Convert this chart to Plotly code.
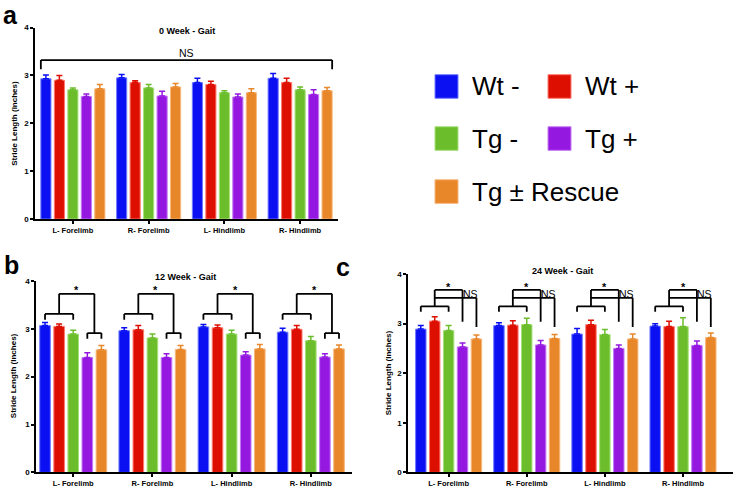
import plotly.graph_objects as go

W, H = 750, 500

categories = ["L- Forelimb", "R- Forelimb", "L- Hindlimb", "R- Hindlimb"]
series_names = ["Wt -", "Wt +", "Tg -", "Tg +", "Tg \u00b1 Rescue"]
colors = ["#0a10f2", "#dd0f00", "#6bbd2c", "#9418e0", "#e8862a"]
edge_colors = ["#6f7bff", "#ff7a70", "#a6e07a", "#c47af5", "#f7b77a"]

# means (rows = series, cols = categories)
wk0_mean = [[2.93, 2.95, 2.85, 2.94],
            [2.90, 2.85, 2.81, 2.85],
            [2.70, 2.74, 2.64, 2.70],
            [2.56, 2.57, 2.55, 2.60],
            [2.72, 2.76, 2.64, 2.68]]
wk0_sem = [[0.08, 0.07, 0.09, 0.10],
           [0.10, 0.04, 0.07, 0.09],
           [0.04, 0.07, 0.04, 0.06],
           [0.05, 0.10, 0.06, 0.10],
           [0.09, 0.07, 0.08, 0.07]]

wk12_mean = [[3.07, 2.96, 3.04, 2.93],
             [3.05, 2.98, 3.02, 2.99],
             [2.89, 2.81, 2.89, 2.75],
             [2.40, 2.40, 2.45, 2.41],
             [2.56, 2.57, 2.58, 2.58]]
wk12_sem = [[0.06, 0.06, 0.05, 0.08],
            [0.05, 0.09, 0.06, 0.08],
            [0.08, 0.08, 0.08, 0.09],
            [0.10, 0.08, 0.07, 0.07],
            [0.09, 0.08, 0.09, 0.08]]

wk24_mean = [[2.89, 2.96, 2.79, 2.95],
             [3.05, 2.97, 2.98, 2.94],
             [2.86, 2.98, 2.78, 2.94],
             [2.53, 2.57, 2.50, 2.56],
             [2.69, 2.70, 2.69, 2.72]]
wk24_sem = [[0.07, 0.06, 0.11, 0.05],
            [0.09, 0.09, 0.09, 0.11],
            [0.10, 0.13, 0.10, 0.18],
            [0.08, 0.09, 0.07, 0.09],
            [0.08, 0.08, 0.10, 0.09]]

panel_titles = ["0 Week - Gait", "12 Week - Gait", "24 Week - Gait"]
y_title = "Stride Length (Inches)"

FONT = "Arial, Liberation Sans, sans-serif"
BARGAP = 0.11
GROUPGAP = 0.25
SLOT = (1 - BARGAP) / len(series_names)
HALF = SLOT * (1 - GROUPGAP) / 2


def px_x(p):
    return p / W


def px_y(p):
    return 1 - p / H


fig = go.Figure()

panels = [
    dict(mean=wk0_mean, sem=wk0_sem, xa="x", ya="y"),
    dict(mean=wk12_mean, sem=wk12_sem, xa="x2", ya="y2"),
    dict(mean=wk24_mean, sem=wk24_sem, xa="x3", ya="y3"),
]

for p in panels:
    for i, name in enumerate(series_names):
        fig.add_trace(go.Bar(
            x=categories, y=p["mean"][i], name=name,
            xaxis=p["xa"], yaxis=p["ya"], showlegend=False,
            marker=dict(color=colors[i], line=dict(color=edge_colors[i], width=1)),
            error_y=dict(type="data", array=p["sem"][i], arrayminus=[0] * len(categories),
                         symmetric=False, color=colors[i], thickness=1.5, width=3),
        ))

# pixel geometry of the three plot areas: (left, right, top, bottom)
geo = [(35, 338, 24, 219), (36, 352, 282, 477), (408, 733, 275, 477)]
xranges = [[-0.5, 3.5], [-0.47, 3.52], [-0.52, 3.64]]

axis_common = dict(showline=True, linecolor="black", linewidth=1.6, ticks="outside",
                   ticklen=3, tickwidth=1.5, tickcolor="black", showgrid=False,
                   zeroline=False, tickfont=dict(family=FONT, size=8, color="black", weight="bold"))

layout = {}
for k, (g, xr) in enumerate(zip(geo, xranges)):
    sfx = "" if k == 0 else str(k + 1)
    layout["xaxis" + sfx] = dict(axis_common, domain=[px_x(g[0]), px_x(g[1])], range=xr,
                                 anchor="y" + sfx, type="category",
                                 tickfont=dict(family=FONT, size=7.5, color="black", weight="bold"))
    layout["yaxis" + sfx] = dict(axis_common, domain=[px_y(g[3]), px_y(g[2])], range=[0, 4],
                                 dtick=1, anchor="x" + sfx)

fig.update_layout(**layout)

shapes = []
annotations = []


def bar_x(cat, i):
    return cat + (i - 2) * SLOT


def line(xa, ya, x0, y0, x1, y1):
    shapes.append(dict(type="line", xref=xa, yref=ya, x0=x0, y0=y0, x1=x1, y1=y1,
                       line=dict(color="black", width=1.8)))


# panel a: NS bracket over everything
x_left = bar_x(0, 0) - HALF
x_right = bar_x(3, 4) + HALF
line("x", "y", x_left, 3.32, x_right, 3.32)
line("x", "y", x_left, 3.32, x_left, 3.13)
line("x", "y", x_right, 3.32, x_right, 3.13)
annotations.append(dict(xref="x", yref="y", x=1.5, y=3.46, text="NS", showarrow=False,
                        font=dict(family=FONT, size=10.5, color="black")))

# panel b brackets
for c in range(len(categories)):
    line("x2", "y2", bar_x(c, 0), 3.31, bar_x(c, 2), 3.31)
    line("x2", "y2", bar_x(c, 0), 3.31, bar_x(c, 0), 3.19)
    line("x2", "y2", bar_x(c, 2), 3.31, bar_x(c, 2), 3.19)
    line("x2", "y2", bar_x(c, 3), 2.91, bar_x(c, 4), 2.91)
    line("x2", "y2", bar_x(c, 3), 2.91, bar_x(c, 3), 2.79)
    line("x2", "y2", bar_x(c, 4), 2.91, bar_x(c, 4), 2.79)
    line("x2", "y2", bar_x(c, 1), 3.31, bar_x(c, 1), 3.73)
    line("x2", "y2", bar_x(c, 1), 3.73, bar_x(c, 3.5), 3.73)
    line("x2", "y2", bar_x(c, 3.5), 3.73, bar_x(c, 3.5), 2.91)
    annotations.append(dict(xref="x2", yref="y2", x=bar_x(c, 2.25), y=3.80, text="*",
                            showarrow=False, font=dict(family=FONT, size=11, color="black", weight="bold")))

# panel c brackets
for c in range(len(categories)):
    line("x3", "y3", bar_x(c, 0), 3.35, bar_x(c, 2), 3.35)
    line("x3", "y3", bar_x(c, 0), 3.35, bar_x(c, 0), 3.24)
    line("x3", "y3", bar_x(c, 2), 3.35, bar_x(c, 2), 3.24)
    line("x3", "y3", bar_x(c, 1), 3.35, bar_x(c, 1), 3.68)
    line("x3", "y3", bar_x(c, 1), 3.68, bar_x(c, 3), 3.68)
    line("x3", "y3", bar_x(c, 3), 3.68, bar_x(c, 3), 3.04)
    line("x3", "y3", bar_x(c, 1), 3.52, bar_x(c, 4), 3.52)
    line("x3", "y3", bar_x(c, 4), 3.52, bar_x(c, 4), 2.93)
    annotations.append(dict(xref="x3", yref="y3", x=bar_x(c, 2), y=3.74, text="*",
                            showarrow=False, font=dict(family=FONT, size=11, color="black", weight="bold")))
    annotations.append(dict(xref="x3", yref="y3", x=bar_x(c, 3.55), y=3.60, text="NS",
                            showarrow=False, font=dict(family=FONT, size=10.5, color="black")))

# panel titles
title_pos = [(187, 28), (185, 278), (562, 272)]
for t, (tx, ty) in zip(panel_titles, title_pos):
    annotations.append(dict(xref="paper", yref="paper", x=px_x(tx), y=px_y(ty), text=t,
                            showarrow=False, xanchor="center", yanchor="middle",
                            font=dict(family=FONT, size=9, color="black", weight="bold")))

# y axis titles
for (tx, ty) in [(15, 122), (13, 379), (388, 376)]:
    annotations.append(dict(xref="paper", yref="paper", x=px_x(tx), y=px_y(ty), text=y_title,
                            textangle=-90, showarrow=False, xanchor="center", yanchor="middle",
                            font=dict(family=FONT, size=8, color="black", weight="bold")))

# panel letters
for letter, (tx, ty) in zip(["a", "b", "c"], [(10, 11), (11, 266), (343, 268)]):
    annotations.append(dict(xref="paper", yref="paper", x=px_x(tx), y=px_y(ty), text=letter,
                            showarrow=False, xanchor="center", yanchor="middle",
                            font=dict(family=FONT, size=25, color="black", weight="bold")))

# legend (drawn manually in two columns)
leg_pos = [(435, 84), (548, 84), (435, 137), (548, 137), (435, 191)]
for i, (lx, ly) in enumerate(leg_pos):
    shapes.append(dict(type="rect", xref="paper", yref="paper",
                       x0=px_x(lx), x1=px_x(lx + 23), y0=px_y(ly + 12), y1=px_y(ly - 12),
                       fillcolor=colors[i], line=dict(color=edge_colors[i], width=1)))
    annotations.append(dict(xref="paper", yref="paper", x=px_x(lx + 35), y=px_y(ly),
                            text=series_names[i], showarrow=False, xanchor="left", yanchor="middle",
                            font=dict(family=FONT, size=26, color="black")))

fig.update_layout(
    width=W, height=H, margin=dict(l=0, r=0, t=0, b=0),
    paper_bgcolor="white", plot_bgcolor="white",
    barmode="group", bargap=BARGAP, bargroupgap=GROUPGAP,
    shapes=shapes, annotations=annotations,
    font=dict(family=FONT),
)

fig.write_html("out.html", config={"displayModeBar": False},
               post_script="document.body.style.margin='0';document.body.style.overflow='hidden';")
